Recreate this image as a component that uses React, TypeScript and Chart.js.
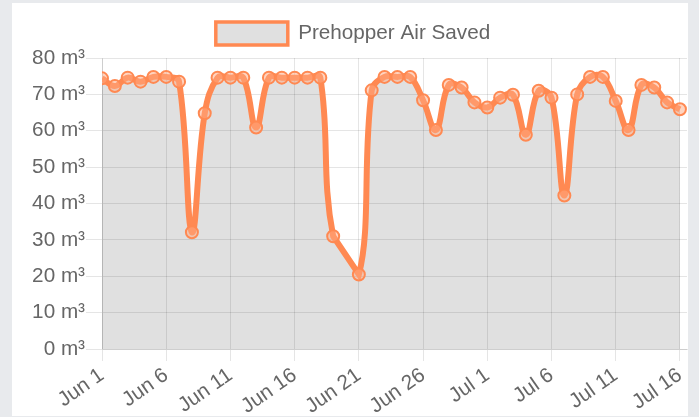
import React, { useEffect, useRef } from "react";
import { Chart, registerables } from "chart.js";

Chart.register(...registerables);

const startDate = "2019-06-01";

const dates = [
  "2019-06-01", "2019-06-02", "2019-06-03", "2019-06-04", "2019-06-05",
  "2019-06-06", "2019-06-07", "2019-06-08", "2019-06-09", "2019-06-10",
  "2019-06-11", "2019-06-12", "2019-06-13", "2019-06-14", "2019-06-15",
  "2019-06-16", "2019-06-17", "2019-06-18", "2019-06-19", "2019-06-21",
  "2019-06-22", "2019-06-23", "2019-06-24", "2019-06-25", "2019-06-26",
  "2019-06-27", "2019-06-28", "2019-06-29", "2019-06-30", "2019-07-01",
  "2019-07-02", "2019-07-03", "2019-07-04", "2019-07-05", "2019-07-06",
  "2019-07-07", "2019-07-08", "2019-07-09", "2019-07-10", "2019-07-11",
  "2019-07-12", "2019-07-13", "2019-07-14", "2019-07-15", "2019-07-16",
];

const airSaved = [
  74.4, 72.3, 74.6, 73.5, 74.8,
  74.8, 73.5, 32.1, 64.8, 74.6,
  74.6, 74.6, 60.9, 74.6, 74.6,
  74.6, 74.6, 74.6, 31.0, 20.5,
  71.1, 74.8, 74.8, 74.8, 68.4,
  60.2, 72.6, 71.9, 67.8, 66.4,
  69.1, 69.9, 58.9, 71.0, 69.1,
  42.2, 70.0, 74.8, 74.8, 68.2,
  60.2, 72.6, 71.9, 67.8, 65.9,
];

const tickLabels = ["Jun 1", "Jun 6", "Jun 11", "Jun 16", "Jun 21", "Jun 26", "Jul 1", "Jul 6", "Jul 11", "Jul 16"];
const seriesLabel = "Prehopper Air Saved";
const unit = "m³";

const DAY = 86400000;
const dayOffset = (d: string) => (Date.parse(d) - Date.parse(startDate)) / DAY;
const xs = dates.map(dayOffset);

// Missing days are joined by a straight segment instead of a spline.
const straightGapPlugin = {
  id: "straightGap",
  afterDatasetsUpdate(chart: any) {
    const meta = chart.getDatasetMeta(0);
    if (!meta || !meta.dataset) return;
    meta.dataset.updateControlPoints(chart.chartArea, "x");
    const pts = meta.data;
    for (let i = 1; i < pts.length; i++) {
      if (xs[i] - xs[i - 1] > 1) {
        const a = pts[i - 1];
        const b = pts[i];
        a.cp2x = a.x;
        a.cp2y = a.y;
        b.cp1x = b.x;
        b.cp1y = b.y;
      }
    }
  },
};

const LEGEND_EXTRA = 3;
const legendHeightPlugin = {
  id: "legendHeight",
  beforeInit(chart: any) {
    const legend = chart.legend;
    if (!legend) return;
    const origFit = legend.fit;
    legend.fit = function () {
      origFit.call(this);
      this.height += LEGEND_EXTRA;
    };
  },
};

export default function App() {
  const ref = useRef<HTMLCanvasElement>(null);

  useEffect(() => {
    const font = { family: "'Liberation Sans', Arial, sans-serif", size: 20.7 };
    const orange = "rgb(255,137,82)";
    const chart = new Chart(ref.current as HTMLCanvasElement, {
      type: "line",
      data: {
        datasets: [
          {
            label: seriesLabel,
            data: xs.map((x, i) => ({ x, y: airSaved[i] })),
            borderColor: orange,
            backgroundColor: "rgba(0,0,0,0.12)",
            fill: "origin",
            tension: 0.4,
            borderWidth: 6,
            pointRadius: 6,
            pointBorderWidth: 2,
            pointBackgroundColor: "rgba(255,170,130,0.5)",
            pointBorderColor: orange,
          },
        ],
      },
      plugins: [straightGapPlugin, legendHeightPlugin],
      options: {
        animation: false,
        responsive: true,
        maintainAspectRatio: false,
        layout: { autoPadding: false, padding: { top: 9, right: 1, left: 7, bottom: 0 } },
        plugins: {
          tooltip: { enabled: false },
          legend: {
            labels: {
              font,
              color: "#666",
              boxWidth: 72,
              boxHeight: 23,
              generateLabels: (c: any) =>
                (Chart.defaults.plugins.legend.labels as any)
                  .generateLabels(c)
                  .map((l: any) => ({ ...l, lineWidth: 3.5 })),
            },
          },
        },
        scales: {
          x: {
            type: "linear",
            min: 0,
            max: 45.55,
            afterFit: (s: any) => {
              s.height = 67;
              s.paddingLeft = 0;
              s.paddingRight = 0;
            },
            ticks: {
              stepSize: 5,
              includeBounds: false,
              autoSkip: false,
              minRotation: 35,
              maxRotation: 35,
              padding: 2,
              color: "#666",
              font,
              callback: (v: any) => tickLabels[Math.round(Number(v) / 5)] ?? "",
            },
            grid: { color: "rgba(0,0,0,0.1)", tickLength: 12 },
          },
          y: {
            min: 0,
            max: 80,
            afterFit: (s: any) => {
              s.width = 83;
              s.paddingTop = 0;
              s.paddingBottom = 0;
            },
            ticks: {
              stepSize: 10,
              padding: 1,
              color: "#666",
              font,
              callback: (v: any) => `${v} ${unit}`,
            },
            grid: { color: "rgba(0,0,0,0.1)", tickLength: 16 },
          },
        },
      },
    } as any);
    return () => chart.destroy();
  }, []);

  return (
    <div style={{ position: "fixed", inset: 0, background: "#e8eaed" }}>
      <div
        style={{
          position: "absolute",
          left: 12,
          top: 3,
          width: 676,
          height: 413,
          background: "#fff",
        }}
      >
        <canvas ref={ref} />
      </div>
    </div>
  );
}
